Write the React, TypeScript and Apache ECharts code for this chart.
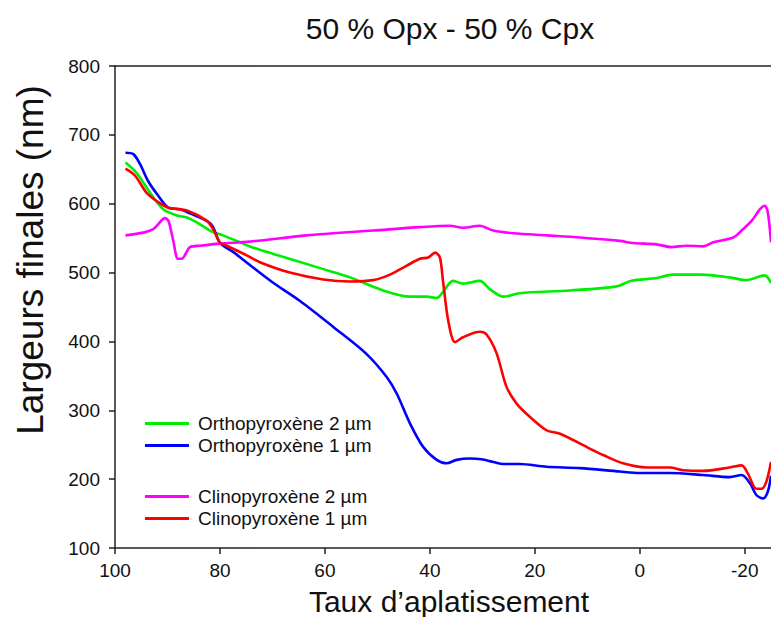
import React, { useEffect, useRef } from "react";
import * as echarts from "echarts";

const TITLE = "50 % Opx - 50 % Cpx";
const X_NAME = "Taux d\u2019aplatissement";
const Y_NAME = "Largeurs finales (nm)";
const X_TICKS = [100, 80, 60, 40, 20, 0, -20];

const SERIES_NAMES = [
  "Orthopyroxène 2 µm",
  "Orthopyroxène 1 µm",
  "Clinopyroxène 2 µm",
  "Clinopyroxène 1 µm",
];

const ortho2: [number, number][] = [
  [98, 660], [95.9, 645], [93.3, 616], [90.8, 592], [88.2, 583], [86.3, 580],
  [84.4, 573], [81.9, 561], [79.4, 554], [76.8, 546], [74.3, 538], [69.8, 527],
  [60.3, 505], [55.2, 493], [48.9, 474], [43.8, 465], [40.6, 465], [38.7, 463],
  [37.5, 472], [35.6, 488], [33.7, 484], [30.5, 488], [28.6, 476], [26, 465],
  [22.9, 470], [13.3, 474], [4.4, 480], [1.6, 488], [-3.2, 492], [-6.3, 497],
  [-11.7, 497], [-17.1, 493], [-20.3, 489], [-23.8, 496], [-25, 485],
];

const ortho1: [number, number][] = [
  [98, 674], [96.5, 672], [95.2, 657], [93.7, 633], [91.8, 612], [89.8, 594],
  [87.6, 592], [85.7, 586], [82.5, 575], [81.3, 566], [80, 543], [77.5, 530],
  [74.3, 511], [70, 486], [64.8, 459], [58.4, 421], [52.1, 382], [48.2, 348],
  [46.3, 324], [43.8, 281], [41.3, 247], [38.7, 228], [36.8, 223], [34.9, 228],
  [32.4, 230], [30.2, 229], [27.9, 225], [26, 222], [22.9, 222], [17.8, 218],
  [11.4, 216], [3.8, 211], [0, 209], [-5.7, 209], [-12.1, 206], [-17.1, 203],
  [-19.4, 206], [-21, 194], [-22.2, 177], [-23.5, 172], [-24.4, 182], [-25, 205],
];

const clino2: [number, number][] = [
  [98, 554], [94.6, 558], [92.7, 563], [91.8, 570], [90.5, 579], [89.8, 575],
  [88.9, 546], [88, 520], [87.3, 520], [85.7, 537], [83.8, 539], [80, 542],
  [74.3, 545], [63.5, 554], [50.8, 561], [41.9, 566], [36.2, 568], [33.7, 565],
  [30.5, 568], [27.9, 561], [24.1, 557], [17.8, 554], [11.4, 551], [3.8, 546],
  [1.3, 543], [-3.2, 541], [-6, 537], [-8.9, 539], [-12.1, 538], [-14, 544],
  [-17.8, 551], [-19.4, 561], [-21.3, 575], [-22.9, 592], [-23.8, 597],
  [-24.4, 587], [-25, 544],
];

const clino1: [number, number][] = [
  [98, 651], [96.2, 641], [94, 616], [92.1, 604], [89.8, 594], [86.3, 590],
  [82.5, 575], [81.3, 563], [80, 544], [78.1, 537], [74.9, 525], [72.4, 515],
  [66.7, 500], [60.3, 490], [55.2, 487], [50.8, 489], [47.6, 497], [44.4, 510],
  [41.9, 520], [40.3, 522], [39, 529], [38.1, 522], [37.5, 488], [36.5, 430],
  [35.2, 399], [33.7, 406], [30.5, 414], [29.2, 410], [27.3, 383], [25.4, 334],
  [23.5, 310], [21.6, 295], [17.8, 271], [15.2, 266], [8.9, 242], [7, 235],
  [3.2, 223], [-1.3, 217], [-5.7, 217], [-8.3, 213], [-12.1, 212], [-17.1, 217],
  [-19.4, 220], [-20.6, 208], [-22.2, 186], [-23.2, 186], [-24.1, 196], [-25, 225],
];

const COLORS = ["#00ee00", "#0000ff", "#ff00ff", "#ff0000"];
const FONT = "'Liberation Sans', Arial, sans-serif";
const AXIS_COLOR = "#222";

export default function App() {
  const ref = useRef<HTMLDivElement>(null);
  useEffect(() => {
    document.body.style.margin = "0";
    const chart = echarts.init(ref.current!, null, { renderer: "svg" });
    const datas = [ortho2, ortho1, clino2, clino1];
    const legendText = { fontFamily: FONT, fontSize: 19, color: "#111", lineHeight: 19, padding: [0, 0, 0, 4] };
    chart.setOption({
      animation: false,
      backgroundColor: "#ffffff",
      textStyle: { fontFamily: FONT },
      title: {
        text: TITLE,
        left: 445,
        top: 8,
        textAlign: "center",
        textStyle: { fontFamily: FONT, fontSize: 30, fontWeight: "normal", color: "#111" },
      },
      grid: { left: 115, right: 0, top: 66, bottom: 69, outerBoundsMode: "none", containLabel: false },
      legend: [
        {
          data: SERIES_NAMES.slice(0, 2),
          orient: "vertical",
          left: 140,
          top: 409,
          icon: "rect",
          itemWidth: 44,
          itemHeight: 3,
          itemGap: 3,
          textStyle: legendText,
        },
        {
          data: SERIES_NAMES.slice(2, 4),
          orient: "vertical",
          left: 140,
          top: 482,
          icon: "rect",
          itemWidth: 44,
          itemHeight: 3,
          itemGap: 3,
          textStyle: legendText,
        },
      ],
      xAxis: [
        {
          type: "value",
          min: -25,
          max: 100,
          inverse: true,
          name: X_NAME,
          nameLocation: "middle",
          nameGap: 38,
          nameTextStyle: { fontFamily: FONT, fontSize: 30, color: "#111", padding: [0, 0, 0, 12] },
          axisLine: { show: true, lineStyle: { color: AXIS_COLOR, width: 1.5 } },
          axisTick: { show: true, length: 6, customValues: X_TICKS, lineStyle: { color: AXIS_COLOR, width: 1.5 } },
          axisLabel: { customValues: X_TICKS, margin: 13, fontFamily: FONT, fontSize: 19, color: "#111" },
          splitLine: { show: false },
        },
        {
          type: "value",
          min: -25,
          max: 100,
          inverse: true,
          position: "top",
          axisLine: { show: true, onZero: false, lineStyle: { color: AXIS_COLOR, width: 1.5 } },
          axisTick: { show: false },
          axisLabel: { show: false },
          splitLine: { show: false },
        },
      ],
      yAxis: {
        type: "value",
        min: 100,
        max: 800,
        interval: 100,
        name: Y_NAME,
        nameLocation: "middle",
        nameGap: 66,
        nameTextStyle: { fontFamily: FONT, fontSize: 37, color: "#111", padding: [0, 0, 0, 94] },
        axisLine: { show: true, onZero: false, lineStyle: { color: AXIS_COLOR, width: 1.5 } },
        axisTick: { show: true, length: 6, lineStyle: { color: AXIS_COLOR, width: 1.5 } },
        axisLabel: { margin: 15, fontFamily: FONT, fontSize: 19, color: "#111" },
        splitLine: { show: false },
      },
      series: SERIES_NAMES.map((name, i) => ({
        name,
        type: "line",
        xAxisIndex: 0,
        data: datas[i],
        smooth: 0.3,
        showSymbol: false,
        symbol: "none",
        clip: true,
        color: COLORS[i],
        lineStyle: { color: COLORS[i], width: 2.6 },
      })),
    });
    return () => chart.dispose();
  }, []);
  return <div ref={ref} style={{ width: 771, height: 617, position: "absolute", left: 0, top: 0 }} />;
}
